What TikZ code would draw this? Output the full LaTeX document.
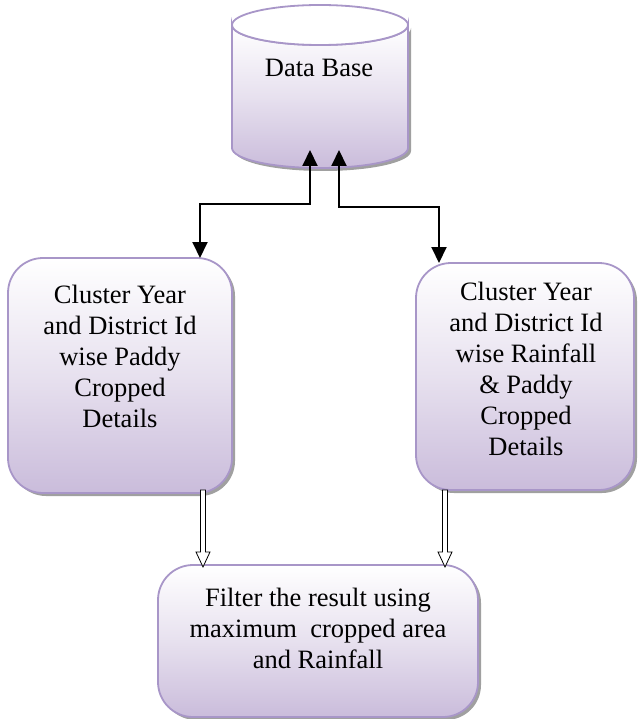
\documentclass[tikz,border=0pt]{standalone}
\usepackage{fontspec}
\setmainfont{LiberationSerif-Regular.ttf}
\newfontfamily\tnr{LiberationSerif-Regular.ttf}
\usetikzlibrary{arrows.meta,shadows,calc}
\definecolor{bord}{RGB}{168,150,200}
\definecolor{lav}{RGB}{202,188,219}
\definecolor{shad}{RGB}{150,150,150}
\begin{document}
\begin{tikzpicture}[x=1pt,y=-1pt,
  boxshape/.style={rectangle, rounded corners=35pt, draw=bord, line width=1.8pt,
    top color=white, bottom color=lav, middle color=lav!45, inner sep=0pt,
    drop shadow={shadow xshift=3pt, shadow yshift=-3pt, fill=shad, opacity=0.9}},
  txt/.style={align=center, inner sep=0pt, font=\tnr\fontsize{26.5}{31}\selectfont},
  conn/.style={line width=2pt, {Triangle[length=16pt,width=15pt]}-{Triangle[length=16pt,width=15pt]}},
  hollow/.style={draw=black, fill=white, line width=0.8pt,
    to path={let \p1=(\tikztostart), \p2=(\tikztotarget) in
      (\x1-2.5pt,\y1) -- (\x1-2.5pt,\y2+15pt) -- (\x1-7pt,\y2+15pt) -- (\x2,\y2)
      -- (\x1+7pt,\y2+15pt) -- (\x1+2.5pt,\y2+15pt) -- (\x1+2.5pt,\y1) -- cycle}}
  ]
\useasboundingbox (0,0) rectangle (637,719);

% Database cylinder
\path[draw=bord, line width=1.8pt, top color=white, bottom color=lav, middle color=lav!45,
  drop shadow={shadow xshift=3pt, shadow yshift=-3pt, fill=shad, opacity=0.9}]
  (232,25) -- (232,148) arc[start angle=180, end angle=360, x radius=88, y radius=-20]
  -- (408,25) arc[start angle=0, end angle=180, x radius=88, y radius=20] -- cycle;
\draw[draw=bord, line width=1.8pt, fill=white] (320,25) ellipse[x radius=88, y radius=20];
\node[txt] (db) at (319,68) {Data Base};
\coordinate (dbL) at (310,150);
\coordinate (dbR) at (339,150);

% Boxes
\node[boxshape, minimum width=224pt, minimum height=235pt] (L) at (120,375.5) {};
\node[txt] (Lt) at (120,356) {Cluster Year\\and District Id\\wise Paddy\\Cropped\\Details};
\node[boxshape, minimum width=218pt, minimum height=227pt] (R) at (525,376.5) {};
\node[txt] (Rt) at (526,369) {Cluster Year\\and District Id\\wise Rainfall\\\&~Paddy\\Cropped\\Details};
\node[boxshape, minimum width=320pt, minimum height=152pt] (B) at (318,641) {};
\node[txt] (Bt) at (318,628) {Filter the result using\\maximum~ cropped area\\and Rainfall};

% Connectors
\coordinate (Ltop) at (200,258);
\coordinate (Rtop) at (439,263);
\draw[conn] (dbL) -- ++(0,54) -| (Ltop);
\draw[conn] (dbR) -- ++(0,57) -| (Rtop);

\coordinate (l1) at (203,490);
\coordinate (l2) at (203,567);
\coordinate (r1) at (445,490);
\coordinate (r2) at (445,567);
\draw[hollow] (l1) to (l2);
\draw[hollow] (r1) to (r2);
\end{tikzpicture}
\end{document}
